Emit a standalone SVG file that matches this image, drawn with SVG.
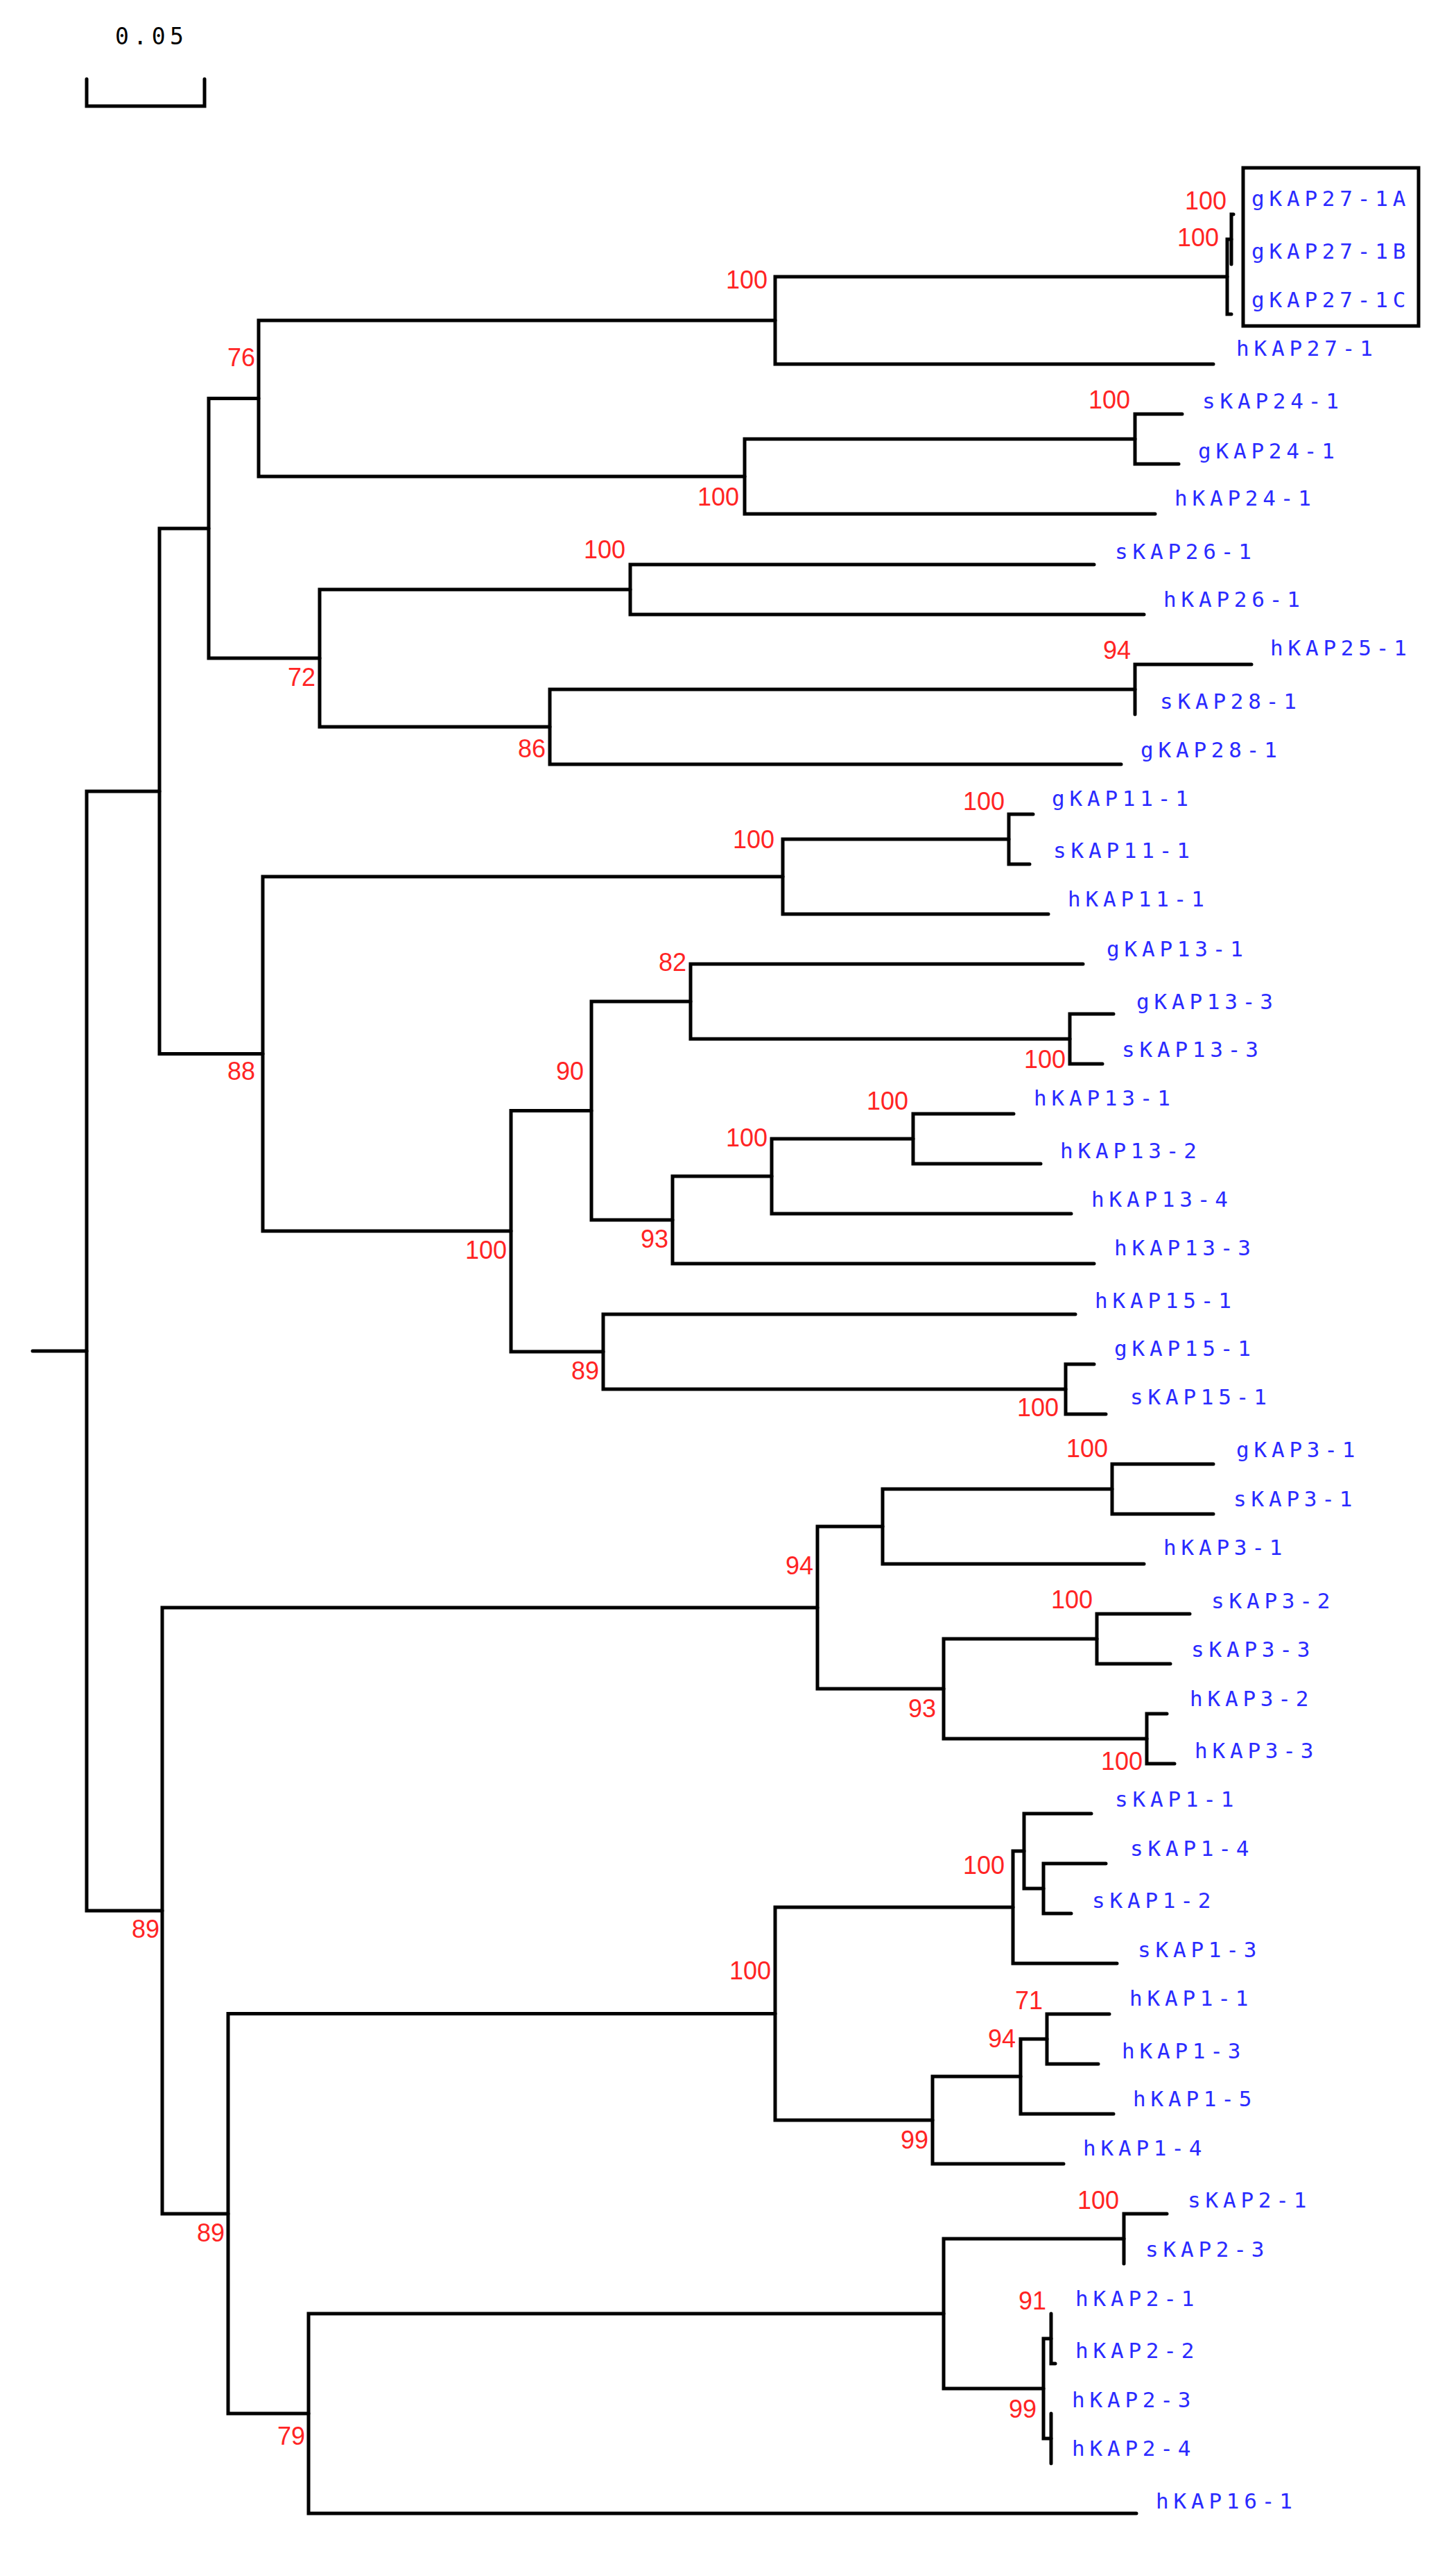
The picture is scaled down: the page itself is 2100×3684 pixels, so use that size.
<svg xmlns="http://www.w3.org/2000/svg" width="2100" height="3684" viewBox="0 0 2100 3684">
<style>
.br{fill:none;stroke:#000;stroke-width:5;stroke-linecap:round;stroke-linejoin:miter}
.lf{font-family:"DejaVu Sans Mono","Liberation Mono",monospace;font-size:31px;letter-spacing:6.8px;fill:#2a2aff}
.bs{font-family:"Liberation Sans",Arial,sans-serif;font-size:36px;fill:#ff2424;text-anchor:end}
.sc{font-family:"DejaVu Sans Mono","Liberation Mono",monospace;font-size:33px;letter-spacing:6.5px;fill:#000}
</style>
<rect width="2100" height="3684" fill="#fff"/>
<g id="scalebar">
<path class="br" d="M125 114 V153 H295 V114"/>
<text class="sc" x="166" y="64">0.05</text>
</g>
<g id="connectors">
<path class="br" d="M1779 309 H1776 V381"/>
<path class="br" d="M1776 345 H1770 V453 H1776"/>
<path class="br" d="M1770 399 H1118 V525 H1750"/>
<path class="br" d="M1705 597 H1637 V669 H1700"/>
<path class="br" d="M1637 633 H1074 V741 H1666"/>
<path class="br" d="M1118 462 H373 V687 H1074"/>
<path class="br" d="M1578 814 H909 V886 H1650"/>
<path class="br" d="M1805 958 H1637 V1030"/>
<path class="br" d="M1637 994 H793 V1102 H1617"/>
<path class="br" d="M909 850 H461 V1048 H793"/>
<path class="br" d="M373 574.5 H301 V949 H461"/>
<path class="br" d="M1490 1174 H1455 V1246 H1485"/>
<path class="br" d="M1455 1210 H1129 V1318 H1512"/>
<path class="br" d="M1606 1462 H1543 V1534 H1590"/>
<path class="br" d="M1562 1390 H996 V1498 H1543"/>
<path class="br" d="M1462 1606 H1317 V1678 H1501"/>
<path class="br" d="M1317 1642 H1113 V1750 H1545"/>
<path class="br" d="M1113 1696 H970 V1822 H1578"/>
<path class="br" d="M996 1444 H853 V1759 H970"/>
<path class="br" d="M1578 1967 H1537 V2039 H1595"/>
<path class="br" d="M1551 1895 H870 V2003 H1537"/>
<path class="br" d="M853 1601.5 H737 V1949 H870"/>
<path class="br" d="M1129 1264 H379 V1775 H737"/>
<path class="br" d="M301 762 H230 V1519.5 H379"/>
<path class="br" d="M1750 2111 H1604 V2183 H1750"/>
<path class="br" d="M1604 2147 H1273 V2255 H1650"/>
<path class="br" d="M1716 2327 H1582 V2399 H1688"/>
<path class="br" d="M1683 2471 H1654 V2543 H1694"/>
<path class="br" d="M1582 2363 H1361 V2507 H1654"/>
<path class="br" d="M1273 2201 H1179 V2435 H1361"/>
<path class="br" d="M1595 2687 H1505 V2759 H1545"/>
<path class="br" d="M1574 2615 H1477 V2723 H1505"/>
<path class="br" d="M1477 2669 H1461 V2831 H1611"/>
<path class="br" d="M1600 2904 H1510 V2976 H1584"/>
<path class="br" d="M1510 2940 H1472 V3048 H1606"/>
<path class="br" d="M1472 2994 H1345 V3120 H1534"/>
<path class="br" d="M1461 2750 H1118 V3057 H1345"/>
<path class="br" d="M1683 3192 H1621 V3264"/>
<path class="br" d="M1516 3336 V3408 H1522"/>
<path class="br" d="M1516 3480 V3552"/>
<path class="br" d="M1516 3372 H1505 V3516 H1516"/>
<path class="br" d="M1621 3228 H1361 V3444 H1505"/>
<path class="br" d="M1361 3336 H445 V3624 H1639"/>
<path class="br" d="M1118 2903.5 H329 V3480 H445"/>
<path class="br" d="M1179 2318 H234 V3192 H329"/>
<path class="br" d="M230 1141 H125 V2755 H234"/>
<path class="br" d="M47 1948 H125"/>
</g>
<g id="box-gKAP27"><rect x="1793" y="242" width="253" height="228" fill="none" stroke="#000" stroke-width="5"/></g>
<g id="leaf-gKAP27-1A"><text class="lf" x="1805" y="297">gKAP27-1A</text></g>
<g id="leaf-gKAP27-1B"><text class="lf" x="1805" y="373">gKAP27-1B</text></g>
<g id="leaf-gKAP27-1C"><text class="lf" x="1805" y="443">gKAP27-1C</text></g>
<g id="leaf-hKAP27-1"><text class="lf" x="1783" y="513">hKAP27-1</text></g>
<g id="leaf-sKAP24-1"><text class="lf" x="1734" y="589">sKAP24-1</text></g>
<g id="leaf-gKAP24-1"><text class="lf" x="1728" y="661">gKAP24-1</text></g>
<g id="leaf-hKAP24-1"><text class="lf" x="1694" y="729">hKAP24-1</text></g>
<g id="leaf-sKAP26-1"><text class="lf" x="1608" y="806">sKAP26-1</text></g>
<g id="leaf-hKAP26-1"><text class="lf" x="1678" y="875">hKAP26-1</text></g>
<g id="leaf-hKAP25-1"><text class="lf" x="1832" y="945">hKAP25-1</text></g>
<g id="leaf-sKAP28-1"><text class="lf" x="1673" y="1022">sKAP28-1</text></g>
<g id="leaf-gKAP28-1"><text class="lf" x="1645" y="1092">gKAP28-1</text></g>
<g id="leaf-gKAP11-1"><text class="lf" x="1517" y="1162">gKAP11-1</text></g>
<g id="leaf-sKAP11-1"><text class="lf" x="1519" y="1237">sKAP11-1</text></g>
<g id="leaf-hKAP11-1"><text class="lf" x="1540" y="1307">hKAP11-1</text></g>
<g id="leaf-gKAP13-1"><text class="lf" x="1596" y="1379">gKAP13-1</text></g>
<g id="leaf-gKAP13-3"><text class="lf" x="1639" y="1455">gKAP13-3</text></g>
<g id="leaf-sKAP13-3"><text class="lf" x="1618" y="1524">sKAP13-3</text></g>
<g id="leaf-hKAP13-1"><text class="lf" x="1491" y="1594">hKAP13-1</text></g>
<g id="leaf-hKAP13-2"><text class="lf" x="1529" y="1670">hKAP13-2</text></g>
<g id="leaf-hKAP13-4"><text class="lf" x="1574" y="1740">hKAP13-4</text></g>
<g id="leaf-hKAP13-3"><text class="lf" x="1607" y="1810">hKAP13-3</text></g>
<g id="leaf-hKAP15-1"><text class="lf" x="1579" y="1886">hKAP15-1</text></g>
<g id="leaf-gKAP15-1"><text class="lf" x="1607" y="1955">gKAP15-1</text></g>
<g id="leaf-sKAP15-1"><text class="lf" x="1630" y="2025">sKAP15-1</text></g>
<g id="leaf-gKAP3-1"><text class="lf" x="1783" y="2101">gKAP3-1</text></g>
<g id="leaf-sKAP3-1"><text class="lf" x="1779" y="2172">sKAP3-1</text></g>
<g id="leaf-hKAP3-1"><text class="lf" x="1678" y="2242">hKAP3-1</text></g>
<g id="leaf-sKAP3-2"><text class="lf" x="1747" y="2319">sKAP3-2</text></g>
<g id="leaf-sKAP3-3"><text class="lf" x="1718" y="2389">sKAP3-3</text></g>
<g id="leaf-hKAP3-2"><text class="lf" x="1716" y="2460">hKAP3-2</text></g>
<g id="leaf-hKAP3-3"><text class="lf" x="1723" y="2535">hKAP3-3</text></g>
<g id="leaf-sKAP1-1"><text class="lf" x="1608" y="2605">sKAP1-1</text></g>
<g id="leaf-sKAP1-4"><text class="lf" x="1630" y="2676">sKAP1-4</text></g>
<g id="leaf-sKAP1-2"><text class="lf" x="1575" y="2751">sKAP1-2</text></g>
<g id="leaf-sKAP1-3"><text class="lf" x="1641" y="2822">sKAP1-3</text></g>
<g id="leaf-hKAP1-1"><text class="lf" x="1629" y="2892">hKAP1-1</text></g>
<g id="leaf-hKAP1-3"><text class="lf" x="1618" y="2968">hKAP1-3</text></g>
<g id="leaf-hKAP1-5"><text class="lf" x="1634" y="3037">hKAP1-5</text></g>
<g id="leaf-hKAP1-4"><text class="lf" x="1562" y="3108">hKAP1-4</text></g>
<g id="leaf-sKAP2-1"><text class="lf" x="1713" y="3183">sKAP2-1</text></g>
<g id="leaf-sKAP2-3"><text class="lf" x="1652" y="3254">sKAP2-3</text></g>
<g id="leaf-hKAP2-1"><text class="lf" x="1551" y="3325">hKAP2-1</text></g>
<g id="leaf-hKAP2-2"><text class="lf" x="1551" y="3400">hKAP2-2</text></g>
<g id="leaf-hKAP2-3"><text class="lf" x="1546" y="3471">hKAP2-3</text></g>
<g id="leaf-hKAP2-4"><text class="lf" x="1546" y="3541">hKAP2-4</text></g>
<g id="leaf-hKAP16-1"><text class="lf" x="1667" y="3617">hKAP16-1</text></g>
<g id="node-g27in"><text class="bs" x="1769" y="302">100</text></g>
<g id="node-g27"><text class="bs" x="1758" y="355">100</text></g>
<g id="node-h27"><text class="bs" x="1107" y="416">100</text></g>
<g id="node-s24"><text class="bs" x="1630" y="589">100</text></g>
<g id="node-h24"><text class="bs" x="1066" y="729">100</text></g>
<g id="node-76"><text class="bs" x="368" y="528">76</text></g>
<g id="node-s26"><text class="bs" x="902" y="805">100</text></g>
<g id="node-72"><text class="bs" x="455" y="989">72</text></g>
<g id="node-94a"><text class="bs" x="1631" y="950">94</text></g>
<g id="node-86"><text class="bs" x="787" y="1092">86</text></g>
<g id="node-g11"><text class="bs" x="1449" y="1168">100</text></g>
<g id="node-h11"><text class="bs" x="1117" y="1223">100</text></g>
<g id="node-88"><text class="bs" x="368" y="1557">88</text></g>
<g id="node-82"><text class="bs" x="990" y="1400">82</text></g>
<g id="node-g13"><text class="bs" x="1537" y="1540">100</text></g>
<g id="node-h13"><text class="bs" x="1310" y="1600">100</text></g>
<g id="node-h13b"><text class="bs" x="1107" y="1653">100</text></g>
<g id="node-90"><text class="bs" x="842" y="1557">90</text></g>
<g id="node-93a"><text class="bs" x="964" y="1799">93</text></g>
<g id="node-100a"><text class="bs" x="731" y="1815">100</text></g>
<g id="node-89a"><text class="bs" x="864" y="1989">89</text></g>
<g id="node-g15"><text class="bs" x="1527" y="2042">100</text></g>
<g id="node-g3"><text class="bs" x="1598" y="2101">100</text></g>
<g id="node-94b"><text class="bs" x="1173" y="2270">94</text></g>
<g id="node-s32"><text class="bs" x="1576" y="2319">100</text></g>
<g id="node-93b"><text class="bs" x="1350" y="2476">93</text></g>
<g id="node-h32"><text class="bs" x="1648" y="2552">100</text></g>
<g id="node-s1a"><text class="bs" x="1449" y="2702">100</text></g>
<g id="node-100b"><text class="bs" x="1112" y="2854">100</text></g>
<g id="node-71"><text class="bs" x="1504" y="2897">71</text></g>
<g id="node-94c"><text class="bs" x="1465" y="2952">94</text></g>
<g id="node-99a"><text class="bs" x="1339" y="3098">99</text></g>
<g id="node-s2"><text class="bs" x="1614" y="3185">100</text></g>
<g id="node-91"><text class="bs" x="1509" y="3330">91</text></g>
<g id="node-99b"><text class="bs" x="1495" y="3486">99</text></g>
<g id="node-89b"><text class="bs" x="230" y="2794">89</text></g>
<g id="node-89c"><text class="bs" x="324" y="3232">89</text></g>
<g id="node-79"><text class="bs" x="440" y="3525">79</text></g>
</svg>
